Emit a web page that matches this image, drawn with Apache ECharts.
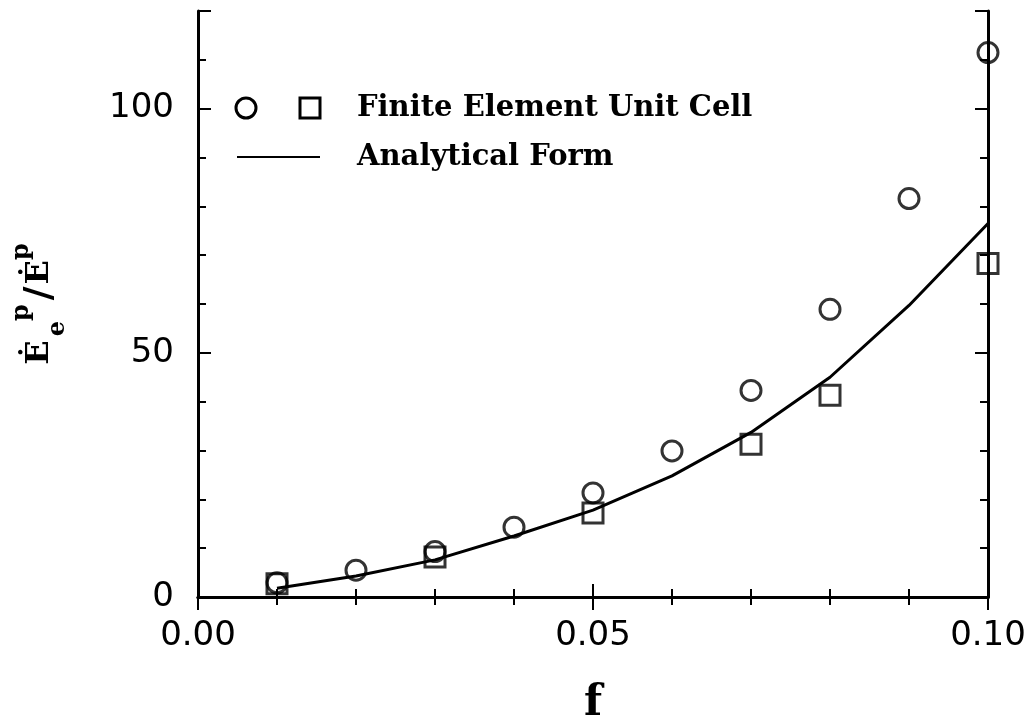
<!DOCTYPE html>
<html>
<head>
<meta charset="utf-8">
<script src="https://cdn.jsdelivr.net/npm/echarts@6/dist/echarts.min.js"></script>
<style>
html,body{margin:0;padding:0;background:#fff;}
#chart{width:1032px;height:728px;}
</style>
</head>
<body>
<div id="chart"></div>
<script>
// ---- data ----
const fCircle = [0.01, 0.02, 0.03, 0.04, 0.05, 0.06, 0.07, 0.08, 0.09, 0.10];
const feCircle = [2.9, 5.5, 9.3, 14.3, 21.3, 29.9, 42.3, 58.9, 81.6, 111.5];
const fSquare = [0.01, 0.03, 0.05, 0.07, 0.08, 0.10];
const feSquare = [2.7, 8.2, 17.2, 31.3, 41.3, 68.3];
const fLine = [0.01, 0.02, 0.03, 0.04, 0.05, 0.06, 0.07, 0.08, 0.09, 0.10];
const analytical = [1.8, 4.3, 7.6, 12.5, 17.8, 24.8, 33.7, 45.0, 59.7, 76.5];
const legendLabels = ['Finite Element Unit Cell', 'Analytical Form'];
const xTitle = 'f';

const zip = (a, b) => a.map((v, i) => [v, b[i]]);

const chart = echarts.init(document.getElementById('chart'));
const axisLine = {show: true, lineStyle: {color: '#000', width: 3}};
const labelFont = {color: '#000', fontFamily: 'DejaVu Sans', fontSize: 34};
const tickStyle = {color: '#000', width: 2};

const option = {
  animation: false,
  backgroundColor: '#fff',
  grid: {left: 198, right: 44, top: 11, bottom: 131, containLabel: false, outerBoundsMode: 'none'},
  xAxis: [
    {
      type: 'value', min: 0, max: 0.1, interval: 0.05, position: 'bottom',
      axisLine: axisLine,
      axisTick: {show: true, inside: true, length: 13, lineStyle: tickStyle},
      minorTick: {show: true, splitNumber: 5, length: 8, lineStyle: tickStyle},
      splitLine: {show: false}, minorSplitLine: {show: false},
      axisLabel: Object.assign({margin: 22, formatter: v => v.toFixed(2)}, labelFont),
      name: xTitle, nameLocation: 'middle', nameGap: 86,
      nameTextStyle: {color: '#000', fontFamily: 'DejaVu Serif', fontWeight: 'bold', fontSize: 42}
    },
    {
      type: 'value', min: 0, max: 0.1, interval: 0.05, position: 'top',
      axisLine: axisLine,
      axisTick: {show: true, inside: true, length: 13, lineStyle: tickStyle},
      minorTick: {show: true, splitNumber: 5, length: 8, lineStyle: tickStyle},
      splitLine: {show: false}, axisLabel: {show: false}
    }
  ],
  yAxis: [
    {
      type: 'value', min: 0, max: 120, interval: 10, position: 'left',
      axisLine: axisLine,
      axisTick: {show: true, inside: true, length: 8, lineStyle: tickStyle},
      splitLine: {show: false},
      axisLabel: Object.assign({margin: 24, formatter: v => (v % 50 === 0 ? String(v) : '')}, labelFont),
      name: 'Ė{gap|}{sub|e}{sup|p}{sl|/}Ė{sup|p}', nameLocation: 'middle', nameGap: 128, nameRotate: 90,
      nameTextStyle: {
        color: '#000', fontFamily: 'DejaVu Serif', fontWeight: 'bold', fontSize: 32, lineHeight: 60,
        rich: {
          gap: {width: 4},
          sub: {fontFamily: 'DejaVu Serif', fontWeight: 'bold', fontSize: 24, verticalAlign: 'bottom', lineHeight: 21, color: '#000'},
          sup: {fontFamily: 'DejaVu Serif', fontWeight: 'bold', fontSize: 24, verticalAlign: 'top', lineHeight: 37, color: '#000'},
          sl: {fontFamily: 'DejaVu Serif', fontWeight: 'bold', fontSize: 38, color: '#000', padding: [0, 2, 0, 4]}
        }
      }
    },
    {
      type: 'value', min: 0, max: 120, interval: 50, position: 'left',
      axisLine: {show: false},
      axisTick: {show: true, inside: true, length: 13, lineStyle: tickStyle},
      splitLine: {show: false}, axisLabel: {show: false}
    },
    {
      type: 'value', min: 0, max: 120, interval: 10, position: 'right',
      axisLine: axisLine,
      axisTick: {show: true, inside: true, length: 8, lineStyle: tickStyle},
      splitLine: {show: false}, axisLabel: {show: false}
    },
    {
      type: 'value', min: 0, max: 120, interval: 50, position: 'right',
      axisLine: {show: false},
      axisTick: {show: true, inside: true, length: 13, lineStyle: tickStyle},
      splitLine: {show: false}, axisLabel: {show: false}
    }
  ],
  series: [
    {
      name: legendLabels[1], type: 'line', xAxisIndex: 0, yAxisIndex: 0,
      data: zip(fLine, analytical), showSymbol: false, smooth: false,
      lineStyle: {color: '#000', width: 3}, z: 2
    },
    {
      name: legendLabels[0] + ' (circle)', type: 'scatter', xAxisIndex: 0, yAxisIndex: 0,
      data: zip(fCircle, feCircle), symbol: 'circle', symbolSize: 20,
      itemStyle: {color: 'rgba(0,0,0,0)', borderColor: '#000', borderWidth: 3}, z: 3
    },
    {
      name: legendLabels[0] + ' (square)', type: 'scatter', xAxisIndex: 0, yAxisIndex: 0,
      data: zip(fSquare, feSquare), symbol: 'rect', symbolSize: 20,
      itemStyle: {color: 'rgba(0,0,0,0)', borderColor: '#000', borderWidth: 3}, z: 3
    }
  ],
  graphic: [
    {type: 'circle', shape: {cx: 246, cy: 108, r: 10}, style: {fill: 'none', stroke: '#000', lineWidth: 3}},
    {type: 'rect', shape: {x: 300, y: 98, width: 20, height: 20}, style: {fill: 'none', stroke: '#000', lineWidth: 3}},
    {type: 'text', x: 357, y: 108, style: {text: legendLabels[0], fill: '#000', font: 'bold 29px "DejaVu Serif"', verticalAlign: 'middle'}},
    {type: 'line', shape: {x1: 237, y1: 157, x2: 320, y2: 157}, style: {stroke: '#000', lineWidth: 2}},
    {type: 'text', x: 357, y: 157, style: {text: legendLabels[1], fill: '#000', font: 'bold 29px "DejaVu Serif"', verticalAlign: 'middle'}}
  ]
};
chart.setOption(option);
</script>
</body>
</html>
